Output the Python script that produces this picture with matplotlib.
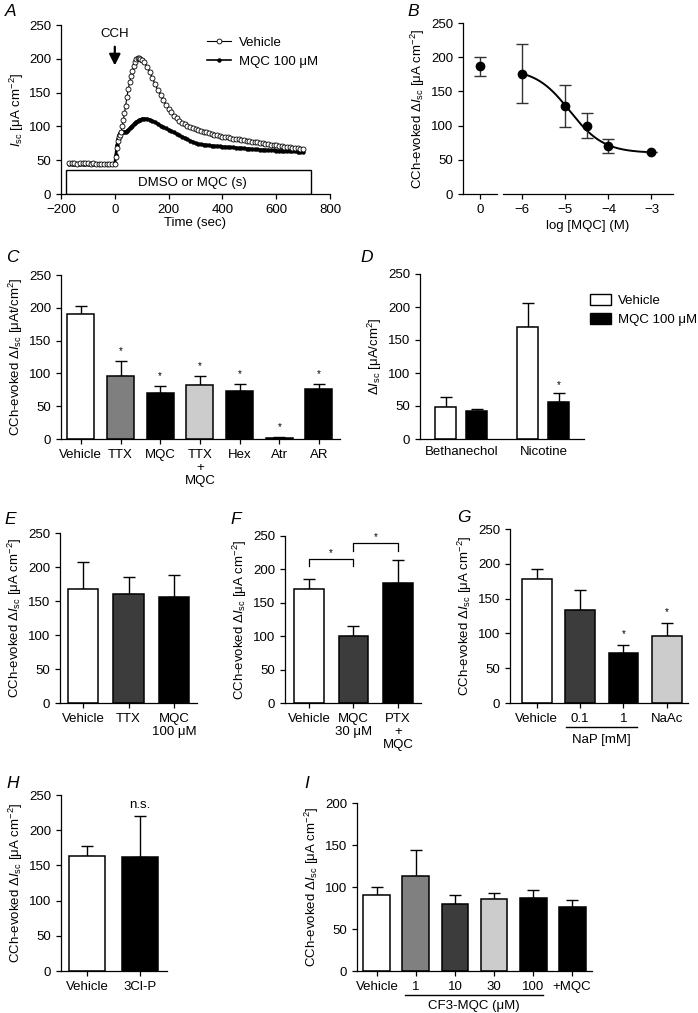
import matplotlib
matplotlib.use("Agg")
import matplotlib.pyplot as plt
import numpy as np
from matplotlib.patches import Rectangle, Patch
from matplotlib.lines import Line2D

plt.rcParams["font.family"] = ["Liberation Sans", "DejaVu Sans"]
plt.rcParams["font.size"] = 9.5
plt.rcParams["mathtext.fontset"] = "custom"
plt.rcParams["mathtext.rm"] = "Liberation Sans"
plt.rcParams["mathtext.it"] = "Liberation Sans:italic"
plt.rcParams["mathtext.bf"] = "Liberation Sans:bold"
plt.rcParams["axes.linewidth"] = 0.9
plt.rcParams["xtick.major.width"] = 0.9
plt.rcParams["ytick.major.width"] = 0.9
plt.rcParams["xtick.major.size"] = 3.5
plt.rcParams["ytick.major.size"] = 3.5

# ---------------- data ----------------
# A: time course
a_time = (list(range(-170, 0, 10))
          + [0, 4, 8, 12, 16, 20, 24, 28, 32, 36, 40, 45, 50, 55, 60, 65, 70, 75, 80, 85, 90, 95, 100]
          + list(range(110, 701, 10)))
a_vehicle = ([46, 46, 46, 45, 46, 46, 46, 46, 45, 46, 45, 45, 45, 45, 44, 44, 44]
             + [44, 55, 68, 78, 84, 88, 92, 100, 110, 120, 130, 143, 155, 165, 174, 182, 189, 195, 199, 201, 201, 200, 198]
             + [195, 188, 180, 171, 162, 154, 146, 139, 132, 126,
                121, 116, 112, 108, 105, 103, 101, 99, 97, 95.5,
                94, 93, 92, 91, 90, 89, 88, 87, 86, 85,
                84.5, 84, 83, 82, 81.5, 81, 80, 79.5, 79, 78,
                77.5, 77, 76.5, 76, 75, 74.5, 74, 73, 72.5, 72,
                71.5, 71, 70, 69.5, 69, 68.5, 68, 67.5, 67, 66.5])
a_mqc = ([45] * 17
         + [45, 58, 72, 82, 88, 90, 91, 91, 91, 92, 92, 93, 95, 97, 99, 101, 103, 105, 107, 108, 109, 110, 111]
         + [111.5, 111, 110, 108, 106, 104, 101, 99, 97, 95,
            93, 91, 89, 87, 85, 83, 81, 79, 77, 75,
            74, 73.5, 73, 72.5, 72, 71.5, 71, 71, 70.5, 70,
            70, 69.5, 69, 69, 68.5, 68, 68, 67.5, 67, 67,
            66.5, 66, 66, 65.5, 65.5, 65, 65, 64.5, 64.5, 64,
            64, 64, 63.5, 63.5, 63, 63, 63, 62.5, 62.5, 62])

# B: concentration response
b_ctrl_mean, b_ctrl_sem = 187, 14
b_logc = [-6, -5, -4.5, -4, -3]
b_mean = [176, 129, 100, 70, 61]
b_sem = [43, 31, 18, 10, 0]
b_fit_top, b_fit_bottom, b_fit_logic50, b_fit_hill = 183, 60, -4.9, 1.1

# C
c_labels = ["Vehicle", "TTX", "MQC", "TTX\n+\nMQC", "Hex", "Atr", "AR"]
c_mean = [191, 96, 70.5, 83, 72.5, 1.5, 75.5]
c_sem = [12, 22.5, 10, 13.5, 12, 1, 9]
c_sig = [False, True, True, True, True, True, True]
c_colors = ["white", "#7f7f7f", "black", "#cccccc", "black", "black", "black"]

# D
d_groups = ["Bethanechol", "Nicotine"]
d_vehicle = [49, 170]
d_vehicle_sem = [14, 36.5]
d_mqc = [42, 56.7]
d_mqc_sem = [4, 12.6]
d_mqc_sig = [False, True]

# E
e_labels = ["Vehicle", "TTX", "MQC\n100 μM"]
e_mean = [168, 161, 156]
e_sem = [39, 24, 32]
e_colors = ["white", "#3c3c3c", "black"]

# F
f_labels = ["Vehicle", "MQC\n30 μM", "PTX\n+\nMQC"]
f_mean = [171, 100, 179.5]
f_sem = [14, 15, 35]
f_colors = ["white", "#3c3c3c", "black"]

# G
g_labels = ["Vehicle", "0.1", "1", "NaAc"]
g_mean = [177.5, 134, 72, 96.5]
g_sem = [15, 28.5, 11.5, 18]
g_sig = [False, False, True, True]
g_colors = ["white", "#3c3c3c", "black", "#cccccc"]

# H
h_labels = ["Vehicle", "3Cl-P"]
h_mean = [164, 162]
h_sem = [14, 58.5]
h_colors = ["white", "black"]

# I
i_labels = ["Vehicle", "1", "10", "30", "100", "+MQC"]
i_mean = [91, 113.5, 79.5, 85.5, 86.5, 76]
i_sem = [8.5, 30, 11, 7.5, 9.5, 8]
i_colors = ["white", "#808080", "#3c3c3c", "#cccccc", "black", "black"]

ylab = r"CCh-evoked $\Delta I_{\rm sc}$ [μA cm$^{-2}$]"

# ---------------- layout helpers ----------------
W, H = 698, 1013
fig = plt.figure(figsize=(W / 100, H / 100), dpi=100)


def add_axes(left, right, top, bottom):
    ax = fig.add_axes([left / W, 1 - bottom / H, (right - left) / W, (bottom - top) / H])
    ax.spines["top"].set_visible(False)
    ax.spines["right"].set_visible(False)
    return ax


def bar_panel(ax, mean, sem, colors, labels, xlim, width, ylim=(0, 250), step=50):
    x = np.arange(len(mean))
    ax.bar(x, mean, width, color=colors, edgecolor="black", linewidth=1.1, zorder=2)
    ax.errorbar(x, mean, yerr=[np.zeros(len(x)), sem], fmt="none", ecolor="black",
                elinewidth=1, capsize=4, capthick=1, zorder=1)
    ax.set_xlim(*xlim)
    ax.set_ylim(*ylim)
    ax.set_yticks(np.arange(ylim[0], ylim[1] + 1, step))
    ax.set_xticks(x)
    ax.set_xticklabels(labels, linespacing=1.15)
    return x


def stars(ax, x, mean, sem, sig, offset):
    for xi, m, s, g in zip(x, mean, sem, sig):
        if g:
            ax.text(xi, m + s + offset, "*", ha="center", va="center", fontsize=7)


def letter(x, y, s):
    fig.text(x / W, 1 - y / H, s, fontsize=12.5, style="italic", ha="center", va="center")


# ---------------- A ----------------
ax = add_axes(61, 330, 25, 194)
ax.add_patch(Rectangle((-183, 0.5), 912, 35, facecolor="white", edgecolor="black", lw=1, zorder=1))
ax.text(287, 17, "DMSO or MQC (s)", ha="center", va="center")
ax.plot(a_time, a_mqc, "-", color="black", lw=2.0, marker="o", ms=2.2, zorder=3)
ax.plot(a_time, a_vehicle, "-", color="black", lw=0.8, marker="o", ms=3.6, mfc="white",
        mec="black", mew=0.6, zorder=4)
ax.annotate("", xy=(0, 186), xytext=(0, 222),
            arrowprops=dict(arrowstyle="-|>,head_width=0.35,head_length=0.7", color="black", lw=1.6))
ax.text(0, 237, "CCH", ha="center", va="center")
ax.set_xlim(-200, 800)
ax.set_ylim(0, 250)
ax.set_xticks(range(-200, 801, 200))
ax.set_yticks(range(0, 251, 50))
ax.set_xlabel("Time (sec)", labelpad=1)
ax.set_ylabel(r"$I_{\rm sc}$ [μA cm$^{-2}$]", labelpad=2)
leg_handles = [Line2D([], [], color="black", lw=0.8, marker="o", ms=3.5, mfc="white", mew=0.6),
               Line2D([], [], color="black", lw=1.2, marker="o", ms=2.2)]
ax.legend(leg_handles, ["Vehicle", "MQC 100 μM"], loc="upper left", bbox_to_anchor=(0.5, 1.0),
          frameon=False, handlelength=1.8, handletextpad=0.6, labelspacing=0.5)

# ---------------- B ----------------
ax1 = add_axes(463, 497, 23, 194)
ax1.errorbar([-7], [b_ctrl_mean], yerr=[b_ctrl_sem], fmt="o", color="black", ms=6,
             ecolor="#333333", elinewidth=1, capsize=4, capthick=1)
ax1.set_xlim(-7.4, -6.6)
ax1.set_ylim(0, 250)
ax1.set_xticks([-7])
ax1.set_xticklabels(["0"])
ax1.set_yticks(range(0, 251, 50))
ax1.set_ylabel(ylab, labelpad=3)

ax2 = add_axes(503, 673, 23, 194)
ax2.spines["left"].set_visible(False)
fit_x = np.linspace(-6, -3, 200)
fit_y = b_fit_bottom + (b_fit_top - b_fit_bottom) / (1 + 10 ** (b_fit_hill * (fit_x - b_fit_logic50)))
ax2.plot(fit_x, fit_y, color="black", lw=1.4)
ax2.errorbar(b_logc, b_mean, yerr=b_sem, fmt="o", color="black", ms=6,
             ecolor="#333333", elinewidth=1, capsize=4, capthick=1)
ax2.set_xlim(-6.45, -2.5)
ax2.set_ylim(0, 250)
ax2.set_xticks([-6, -5, -4, -3])
ax2.set_yticks([])
ax2.set_xlabel("log [MQC] (M)", labelpad=3)

# ---------------- C ----------------
ax = add_axes(61, 340, 275, 439)
x = bar_panel(ax, c_mean, c_sem, c_colors, c_labels, (-0.5, 6.53), 0.68)
stars(ax, x, c_mean, c_sem, c_sig, 15)
ax.set_ylabel(r"CCh-evoked $\Delta I_{\rm sc}$ [μAt/cm$^2$]", labelpad=3)

# ---------------- D ----------------
ax = add_axes(420, 584, 274, 439)
gx = np.arange(len(d_groups))
off, bw = 0.189, 0.256
ax.bar(gx - off, d_vehicle, bw, color="white", edgecolor="black", linewidth=1.1, zorder=2)
ax.bar(gx + off, d_mqc, bw, color="black", edgecolor="black", linewidth=1.1, zorder=2)
ax.errorbar(gx - off, d_vehicle, yerr=[np.zeros(2), d_vehicle_sem], fmt="none", ecolor="black",
            elinewidth=1, capsize=4, capthick=1, zorder=1)
ax.errorbar(gx + off, d_mqc, yerr=[np.zeros(2), d_mqc_sem], fmt="none", ecolor="black",
            elinewidth=1, capsize=4, capthick=1, zorder=1)
stars(ax, gx + off, d_mqc, d_mqc_sem, d_mqc_sig, 12)
ax.set_xlim(-0.506, 1.494)
ax.set_ylim(0, 250)
ax.set_yticks(range(0, 251, 50))
ax.set_xticks(gx)
ax.set_xticklabels(d_groups)
ax.tick_params(axis="x", length=0, pad=5)
ax.set_ylabel(r"$\Delta I_{\rm sc}$ [μA/cm$^2$]", labelpad=3)
fig.legend([Patch(facecolor="white", edgecolor="black"), Patch(facecolor="black", edgecolor="black")],
           ["Vehicle", "MQC 100 μM"], loc="upper left", bbox_to_anchor=(582 / W, 1 - 286 / H),
           frameon=False, handlelength=1.6, handleheight=0.9, handletextpad=0.5, labelspacing=0.45,
           fontsize=9.5, borderaxespad=0.2)

# ---------------- E ----------------
ax = add_axes(60, 197, 533, 703)
bar_panel(ax, e_mean, e_sem, e_colors, e_labels, (-0.505, 2.505), 0.66)
ax.set_ylabel(ylab, labelpad=3)

# ---------------- F ----------------
ax = add_axes(285, 421, 536, 703)
x = bar_panel(ax, f_mean, f_sem, f_colors, f_labels, (-0.54, 2.52), 0.67)
for (x0, x1, ytop, yleg) in [(0, 1, 216, 205), (1, 2, 239.5, 227.5)]:
    ax.plot([x0, x0, x1, x1], [yleg, ytop, ytop, yleg], color="black", lw=0.9)
    ax.text((x0 + x1) / 2, ytop + 9, "*", ha="center", va="center", fontsize=7)
ax.set_ylabel(ylab, labelpad=3)

# ---------------- G ----------------
ax = add_axes(510, 688, 529, 703)
x = bar_panel(ax, g_mean, g_sem, g_colors, g_labels, (-0.62, 3.49), 0.69)
stars(ax, x, g_mean, g_sem, g_sig, 16)
ax.plot([0.67, 2.32], [-0.138, -0.138], color="black", lw=1, transform=ax.get_xaxis_transform(), clip_on=False)
ax.text(1.5, -0.21, "NaP [mM]", ha="center", va="center", transform=ax.get_xaxis_transform())
ax.set_ylabel(ylab, labelpad=3)

# ---------------- H ----------------
ax = add_axes(61, 167, 795, 971)
x = bar_panel(ax, h_mean, h_sem, h_colors, h_labels, (-0.49, 1.51), 0.68)
ax.text(1, 236, "n.s.", ha="center", va="center")
ax.set_ylabel(ylab, labelpad=3)

# ---------------- I ----------------
ax = add_axes(357, 592, 803, 971)
bar_panel(ax, i_mean, i_sem, i_colors, i_labels, (-0.51, 5.51), 0.69, ylim=(0, 200))
ax.plot([0.72, 4.25], [-0.143, -0.143], color="black", lw=1, transform=ax.get_xaxis_transform(), clip_on=False)
ax.text(2.48, -0.208, "CF3-MQC (μM)", ha="center", va="center", transform=ax.get_xaxis_transform())
ax.set_ylabel(ylab, labelpad=3)

# panel letters
for px, py, s in [(11, 12, "A"), (413, 12, "B"), (12, 257, "C"), (367, 257, "D"),
                  (10, 520, "E"), (236, 520, "F"), (464, 517, "G"), (13, 783, "H"), (307, 783, "I")]:
    letter(px, py, s)

fig.savefig("out.png", dpi=100)
